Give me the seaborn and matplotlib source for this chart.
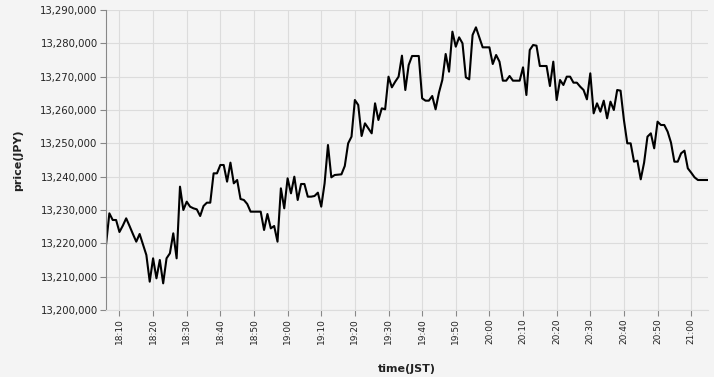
import matplotlib
matplotlib.use("Agg")
import matplotlib.pyplot as plt
import matplotlib.dates as mdates
from matplotlib.ticker import FuncFormatter, MultipleLocator
import seaborn as sns
import pandas as pd

# ---- data (1-minute prices, JPY) ----
start_time = "2024-01-01 18:06"
prices_18 = [13219500, 13229000, 13227000, 13227000, 13223400, 13225300, 13227500, 13225200,
             13222800, 13220500, 13222800, 13219700, 13216500, 13208500, 13215500, 13209500,
             13215000, 13208000, 13215500, 13217000, 13223000, 13215500, 13237000, 13230000,
             13232500, 13231000, 13230500, 13230200, 13228200, 13231200, 13232200, 13232200,
             13241000, 13241000, 13243500, 13243500, 13238500, 13244200, 13238000, 13239000,
             13233300, 13233000, 13231800, 13229500, 13229500, 13229500, 13229500, 13224000,
             13228800, 13224500, 13225200, 13220500, 13236500, 13230500]
prices_19 = [13239500, 13235000, 13240000, 13233000, 13237800, 13237800, 13234000, 13234000,
             13234200, 13235200, 13231000, 13238000, 13249500, 13239800, 13240500, 13240600,
             13240700, 13243200, 13250000, 13252000, 13263000, 13261500, 13252200, 13256000,
             13254500, 13253000, 13262000, 13257000, 13260500, 13260200, 13270000, 13266800,
             13268500, 13270000, 13276300, 13266000, 13273500, 13276200, 13276200, 13276200,
             13263500, 13262800, 13262800, 13264200, 13260200, 13265200, 13269000, 13276800,
             13271500, 13283500, 13279000, 13281800, 13280000, 13269800, 13269200, 13282500,
             13284800, 13281800, 13278800, 13278800]
prices_20 = [13278800, 13273800, 13276500, 13274500, 13268800, 13268800, 13270200, 13268800,
             13268800, 13268800, 13272800, 13264500, 13278000, 13279500, 13279300, 13273200,
             13273200, 13273200, 13267200, 13274500, 13263000, 13269000, 13267500, 13270000,
             13270000, 13268200, 13268200, 13267000, 13266000, 13263200, 13271000, 13259000,
             13262000, 13259500, 13262800, 13257500, 13262500, 13260000, 13266000, 13265800,
             13257000, 13250000, 13250000, 13244500, 13244800, 13239200, 13244200, 13252000,
             13253000, 13248500, 13256500, 13255500, 13255500, 13253500, 13250200, 13244500,
             13244500, 13247000, 13247800, 13242500]
prices_21 = [13241200, 13239800, 13239000, 13239000, 13239000, 13239000]

prices = prices_18 + prices_19 + prices_20 + prices_21
times = pd.date_range(start=start_time, periods=len(prices), freq="min")
df = pd.DataFrame({"time(JST)": times, "price(JPY)": prices})

y_min, y_max, y_step = 13200000, 13290000, 10000

# ---- style ----
bg = "#f4f4f4"
sns.set_theme(style="whitegrid")
plt.rcParams["font.family"] = ["DejaVu Sans"]

fig = plt.figure(figsize=(7.14, 3.77), dpi=100, facecolor=bg)
ax = fig.add_axes([106 / 714, 1 - 310 / 377, (708 - 106) / 714, 300 / 377])
ax.set_facecolor(bg)

sns.lineplot(data=df, x="time(JST)", y="price(JPY)", ax=ax, color="black", linewidth=1.5)

ax.set_xlim(times[0], times[-1])
ax.set_ylim(y_min, y_max)
ax.yaxis.set_major_locator(MultipleLocator(y_step))
ax.yaxis.set_major_formatter(FuncFormatter(lambda v, p: f"{int(round(v)):,}"))
ax.xaxis.set_major_locator(mdates.MinuteLocator(byminute=range(0, 60, 10)))
ax.xaxis.set_major_formatter(mdates.DateFormatter("%H:%M"))

ax.grid(True, color="#dcdcdc", linewidth=0.8)
ax.set_axisbelow(True)
for s in ["top", "right"]:
    ax.spines[s].set_visible(False)
ax.spines["left"].set_color("#888888")
ax.spines["left"].set_linewidth(0.8)
ax.spines["bottom"].set_color("#dcdcdc")
ax.spines["bottom"].set_linewidth(0.8)

ax.tick_params(axis="both", which="major", length=4, width=0.8, color="#888888",
               direction="out", bottom=True, left=True)
ax.tick_params(axis="y", labelsize=7.3, pad=2, labelcolor="#222222")
ax.tick_params(axis="x", labelsize=6.5, pad=2, labelcolor="#222222", labelrotation=90)

ax.set_xlabel("time(JST)", fontsize=8, fontweight="bold", labelpad=14, color="#222222")
ax.set_ylabel("price(JPY)", fontsize=8, fontweight="bold", labelpad=12, color="#222222")

fig.savefig("out.png", dpi=100, facecolor=bg)
